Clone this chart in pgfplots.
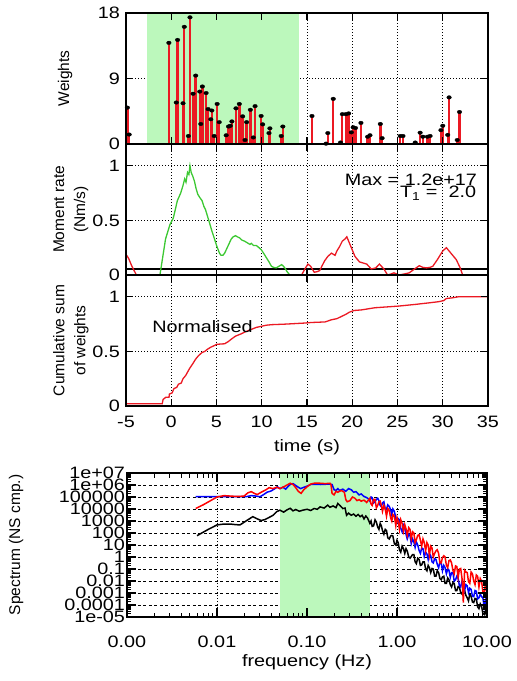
\documentclass[border=0pt]{standalone}
\usepackage{pgfplots}
\pgfplotsset{compat=1.18}
\usepackage{fontspec}
\setmainfont{Liberation Sans}[FakeStretch=1.2]
\newfontfamily\rotfam{Liberation Sans}
\definecolor{bandgreen}{RGB}{188,248,188}
\definecolor{lgreen}{RGB}{60,200,50}
\definecolor{myred}{RGB}{235,25,35}
\newcommand\ticfont{\fontsize{16.5bp}{19bp}\selectfont}
\newcommand\rotfont{\rotfam\fontsize{15.5bp}{21bp}\selectfont}

\pgfplotsset{
  basepanel/.style={scale only axis, anchor=south west, tick align=inside,
     axis line style={line width=1.6bp, black}, tick style={black, line width=1.2bp},
     major tick length=7bp, tick label style={font=\ticfont}, label style={font=\ticfont}},
  tpanel/.style={basepanel, width=362bp, height=131bp, xmin=-5, xmax=35,
     xtick={-5,0,5,10,15,20,25,30,35}},
  under/.style={grid=major, major grid style={black, line width=0.7bp, dash pattern=on 1.3bp off 1.7bp},
     xticklabels={}, yticklabels={}, major tick length=0bp, minor tick length=0bp, axis line style={draw=none}},
  over/.style={axis on top, yticklabel style={xshift=-2.5bp}},
}

\begin{document}
\begin{tikzpicture}
\path[use as bounding box] (0bp,0bp) rectangle (517bp,681bp);

% ---------------- Panel 1: weights
\begin{axis}[tpanel, under, at={(126bp,537bp)}, ymin=0, ymax=18, ytick={0,9,18}]
\addplot[fill=bandgreen, draw=none] coordinates {(-2.7,0) (-2.7,18) (14.1,18) (14.1,0)};
\addplot[ycomb, myred, line width=2.4bp, mark=*, mark size=1.8bp, mark options={black, fill=black, solid, line width=0.3bp, xscale=1.3}] coordinates {
(-4.85,5.0) (-4.65,1.3) (-0.26,13.9) (0.56,5.7) (0.70,14.3) (1.30,5.6) (1.44,16.1) (1.89,1.1) (2.07,17.4) (2.41,6.9) (2.70,9.4) (3.15,7.2) (3.26,2.75) (3.44,7.9) (3.85,7.0) (4.07,4.8) (4.37,3.4) (4.48,4.6) (4.74,1.1) (5.07,5.5) (5.30,3.0) (6.07,1.2) (6.33,2.4) (6.52,2.5) (6.70,3.1) (7.15,4.9) (7.52,5.5) (7.89,3.8) (8.15,0.55) (8.33,3.0) (8.74,4.7) (9.07,0.9) (9.26,5.2) (9.93,3.85) (10.1,2.7) (10.8,1.5) (10.9,2.15) (12.15,1.1) (12.33,2.4) (15.55,3.85) (17.1,0.05) (17.3,1.5) (17.9,6.2) (18.7,0.2) (18.9,4.1) (19.3,4.1) (19.6,4.2) (19.9,1.6) (20.1,2.3) (20.36,2.2) (20.96,2.9) (21.7,1.0) (21.96,1.2) (23.1,2.75) (23.3,0.8) (25.3,1.1) (25.6,1.1) (26.96,0.2) (27.5,1.55) (27.8,1.0) (28.3,1.0) (28.6,1.1) (29.8,1.9) (30.0,2.5) (30.55,1.25) (30.7,6.4) (31.6,0.55) (31.85,4.4)};
\end{axis}
\begin{axis}[tpanel, over, at={(126bp,537bp)}, ymin=0, ymax=18, ytick={0,9,18}, yticklabels={0,9,18}, xticklabels={},
  ylabel={Weights}, ylabel style={at={(axis description cs:-0.1685,0.5)}, anchor=center, font=\rotfont}]
\end{axis}

% ---------------- Panel 2: moment rate
\begin{axis}[tpanel, under, at={(126bp,406bp)}, ymin=0, ymax=1.2, ytick={0,0.5,1}]
\addplot[black, line width=1.6bp] coordinates {(-5,0.055) (35,0.055)};
\addplot[lgreen, line width=1.3bp] coordinates {
(-1.25,0) (-0.63,0.33) (-0.15,0.46) (0.22,0.52) (0.45,0.6) (0.67,0.68) (1.04,0.75) (1.3,0.82) (1.48,0.88) (1.63,0.85) (1.8,0.94) (1.95,0.92) (2.07,1.0) (2.2,0.94) (2.4,0.9) (2.56,0.86) (2.75,0.79) (2.93,0.74) (3.15,0.71) (3.41,0.68) (3.6,0.63) (3.78,0.60) (4.0,0.54) (4.22,0.48) (4.5,0.40) (4.78,0.33) (5.05,0.26) (5.33,0.20) (5.5,0.18) (5.7,0.18) (5.9,0.20) (6.07,0.23) (6.35,0.28) (6.63,0.33) (6.85,0.35) (7.1,0.36) (7.3,0.35) (7.55,0.34) (7.8,0.32) (8.1,0.31) (8.3,0.30) (8.5,0.29) (8.7,0.28) (8.85,0.29) (9.1,0.27) (9.4,0.27) (9.7,0.25) (9.96,0.23) (10.2,0.20) (10.5,0.16) (10.8,0.12) (11.07,0.08) (11.3,0.07) (11.6,0.065) (11.9,0.08) (12.2,0.095) (12.4,0.08) (12.55,0.065) (12.8,0.03) (13.1,0.0)};
\addplot[myred, line width=1.3bp] coordinates {(-5,0.19) (-4.7,0.15) (-4.4,0.09) (-4.1,0.04) (-3.85,0)};
\addplot[myred, line width=1.3bp] coordinates {
(14.4,0) (14.8,0.06) (15.1,0.10) (15.4,0.08) (15.8,0.025) (16.1,0.03) (16.4,0.04) (16.7,0.09) (16.95,0.13) (17.3,0.17) (17.7,0.20) (18.1,0.18) (18.3,0.22) (18.6,0.26) (18.9,0.31) (19.2,0.33) (19.4,0.35) (19.7,0.29) (20.0,0.23) (20.3,0.17) (20.6,0.14) (20.8,0.12) (21.2,0.11) (21.6,0.10) (22.1,0.055) (22.6,0.065) (23.0,0.10) (23.5,0.055) (23.9,0.0) (24.3,0.01) (24.6,0.02) (25.2,0.0) (25.8,0.01) (26.3,0.02) (26.8,0.05) (27.4,0.085) (27.8,0.07) (28.2,0.065) (28.6,0.07) (28.9,0.08) (29.4,0.14) (30.0,0.22) (30.4,0.25) (30.9,0.20) (31.5,0.14) (31.9,0.07) (32.2,0.0)};
\end{axis}
\begin{axis}[tpanel, over, at={(126bp,406bp)}, ymin=0, ymax=1.2, ytick={0,0.5,1}, yticklabels={0,0.5,1}, xticklabels={},
  ylabel={Moment rate\\(Nm/s)}, ylabel style={at={(axis description cs:-0.152,0.5)}, anchor=center, align=center, font=\rotfont}]
\node[anchor=east, inner sep=0pt, font=\ticfont] at (axis cs:33.8,0.87) {Max = 1.2e+17};
\node[anchor=east, inner sep=0pt, font=\ticfont] at (axis cs:33.7,0.75) {T\textsubscript{1} =~ 2.0};
\end{axis}

% ---------------- Panel 3: cumulative
\begin{axis}[tpanel, under, at={(126bp,275bp)}, ymin=0, ymax=1.2, ytick={0,0.5,1}]
\addplot[myred, line width=1.3bp] coordinates {
(-5,0.02) (-1.0,0.02) (-0.9,0.06) (-0.6,0.08) (-0.25,0.08) (-0.2,0.11) (0.1,0.12) (0.3,0.16) (0.6,0.17) (0.8,0.2) (1.1,0.21) (1.3,0.25) (1.6,0.28) (2.0,0.34) (2.4,0.39) (2.7,0.43) (3.0,0.46) (3.4,0.49) (3.7,0.5) (4.0,0.52) (4.4,0.54) (4.8,0.555) (5.0,0.565) (5.9,0.57) (6.3,0.59) (6.6,0.61) (7.1,0.64) (7.7,0.66) (8.2,0.68) (8.8,0.70) (9.4,0.72) (9.96,0.73) (10.5,0.74) (11.1,0.745) (12.6,0.75) (14.8,0.76) (15.5,0.765) (17.0,0.77) (17.7,0.79) (18.3,0.80) (18.8,0.82) (19.3,0.84) (19.7,0.86) (20.2,0.875) (21.0,0.88) (22.5,0.90) (25.1,0.915) (26.9,0.93) (28.5,0.945) (29.5,0.955) (30.1,0.965) (30.4,0.985) (31.0,0.99) (31.7,1.0) (35,1.0)};
\end{axis}
\begin{axis}[tpanel, over, at={(126bp,275bp)}, ymin=0, ymax=1.2, ytick={0,0.5,1}, yticklabels={0,0.5,1},
  xticklabels={-5,0,5,10,15,20,25,30,35}, xticklabel style={yshift=-6.5bp},
  xlabel={time (s)}, xlabel style={at={(axis description cs:0.5,-0.313)}, anchor=center},
  ylabel={Cumulative sum\\of weights}, ylabel style={at={(axis description cs:-0.152,0.5)}, anchor=center, align=center, font=\rotfont}]
\node[anchor=west, inner sep=0pt, font=\ticfont] at (axis cs:-2.1,0.727) {Normalised};
\end{axis}

% ---------------- Panel 4: spectrum
\begin{axis}[basepanel, under, at={(127bp,64bp)}, width=360bp, height=144bp,
  xmode=log, ymode=log, xmin=0.001, xmax=10, ymin=1e-5, ymax=1e7,
  xtick={0.001,0.01,0.1,1,10},
  ytick={1e-5,1e-4,1e-3,1e-2,1e-1,1,10,100,1000,1e4,1e5,1e6,1e7},
  x grid style={black, line width=0.7bp, dash pattern=on 1.2bp off 1.8bp},
  y grid style={black, line width=0.7bp, dash pattern=on 3bp off 2.5bp}]
\addplot[fill=bandgreen, draw=none] coordinates {(0.05,1e-5) (0.05,1e7) (0.5,1e7) (0.5,1e-5)};
\addplot[black, line width=1.5bp] coordinates {
(0.006,60) (0.008,200) (0.01,470) (0.012,560) (0.014,560) (0.016,500) (0.018,470) (0.021,1000) (0.025,2300) (0.028,1500) (0.031,1100) (0.034,1300) (0.038,2000) (0.042,3000) (0.046,6000) (0.05,8000) (0.055,5500) (0.06,8500) (0.065,11500) (0.07,7000) (0.075,9000) (0.082,6500) (0.09,8000) (0.1,9500) (0.11,7500) (0.12,11000) (0.13,9500) (0.14,15000) (0.155,12000) (0.17,21000) (0.18,14000) (0.195,18000) (0.21,13000) (0.22,29000) (0.235,18000) (0.25,11000) (0.265,12000) (0.275,3000) (0.29,4500) (0.31,3000) (0.33,3800) (0.35,2500) (0.37,3500) (0.39,2300) (0.41,3000) (0.43,1500) (0.45,2600) (0.47,1800) (0.49,900)
(0.50,630) (0.515,1000) (0.53,355) (0.55,400) (0.57,1260) (0.59,800) (0.61,316) (0.63,200) (0.65,630) (0.67,400) (0.69,158) (0.715,80) (0.74,200) (0.765,160) (0.79,40) (0.82,32) (0.85,56) (0.875,63) (0.90,56) (0.935,12.6) (0.97,10) (1.0,25) (1.03,16) (1.065,4) (1.10,2.5) (1.14,8) (1.18,5.0) (1.22,2) (1.26,5.0) (1.30,3.2) (1.35,1.0) (1.395,0.8) (1.44,1.1) (1.49,1.6) (1.54,1.6) (1.59,0.4) (1.64,0.28) (1.70,0.8) (1.76,0.63) (1.82,0.2) (1.88,0.22) (1.945,0.4) (2.01,0.4) (2.08,0.1) (2.15,0.071) (2.22,0.2) (2.29,0.13) (2.37,0.05) (2.45,0.11) (2.53,0.1) (2.62,0.025) (2.71,0.025) (2.80,0.071) (2.90,0.05) (3.00,0.016) (3.10,0.0126) (3.20,0.022) (3.31,0.025) (3.42,0.0063) (3.54,0.0063) (3.66,0.018) (3.78,0.0126) (3.91,0.005) (4.04,0.0032) (4.18,0.0071) (4.32,0.0063) (4.47,0.0016) (4.62,0.0016) (4.78,0.0035) (4.94,0.0032) (5.10,0.001) (5.28,8e-4) (5.46,0.0022) (5.64,0.0016) (5.83,6.3e-4) (6.03,4e-4) (6.23,2.2e-4) (6.44,8e-4) (6.66,5.6e-4) (6.89,1.8e-4) (7.12,1.6e-4) (7.36,3.5e-4) (7.61,3.2e-4) (7.87,7e-5) (8.14,5.0e-5) (8.42,1.26e-4) (8.70,7.9e-5) (9.00,2e-5) (9.30,1.6e-5) (9.62,3.2e-5) (9.94,1.1e-5)};
\addplot[blue, line width=1.5bp] coordinates {
(0.0058,1.05e5) (0.01,1.05e5) (0.016,1.05e5) (0.021,1.05e5) (0.024,1.3e5) (0.027,1.2e5) (0.03,1.05e5) (0.033,1.6e5) (0.036,2.5e5) (0.04,3.2e5) (0.044,5e5) (0.047,7e5) (0.05,5e5) (0.054,6.5e5) (0.058,4.5e5) (0.062,8e5) (0.066,1.2e6) (0.07,1.3e6) (0.075,9e5) (0.08,6.5e5) (0.085,5e5) (0.09,6e5) (0.1,8e5) (0.11,1.1e6) (0.12,1.15e6) (0.14,1.1e6) (0.16,1.15e6) (0.18,1.2e6) (0.19,1.1e6) (0.2,4e5) (0.21,3.5e5) (0.22,5e5) (0.23,3.5e5) (0.25,4.5e5) (0.27,3e5) (0.29,5e5) (0.31,4e5) (0.33,2.5e5) (0.35,2.8e5) (0.38,1.5e5) (0.4,1.8e5) (0.43,1.1e5) (0.46,9e4) (0.48,7e4)
(0.50,4.5e4) (0.515,1e5) (0.53,8.9e4) (0.55,3.2e4) (0.57,4.0e4) (0.59,6.3e4) (0.61,7.9e4) (0.63,5e4) (0.65,2.0e4) (0.67,1.6e4) (0.69,3.2e4) (0.715,4e4) (0.74,1.0e4) (0.765,1e4) (0.79,2.2e4) (0.82,1.6e4) (0.85,8.9e3) (0.875,3.2e3) (0.90,1.0e4) (0.935,6.3e3) (0.97,1.6e3) (1.0,800) (1.03,1.6e3) (1.065,1.26e3) (1.10,250) (1.14,126) (1.18,450) (1.22,250) (1.26,79) (1.30,32) (1.35,79) (1.395,63) (1.44,13) (1.49,32) (1.54,18) (1.59,6.3) (1.64,18) (1.70,10) (1.76,3.5) (1.82,2) (1.88,5.6) (1.945,5) (2.01,1.1) (2.08,2.5) (2.15,1.8) (2.22,0.63) (2.29,2.0) (2.37,1.26) (2.45,0.4) (2.53,0.32) (2.62,0.71) (2.71,0.63) (2.80,0.25) (2.90,0.126) (3.00,0.4) (3.10,0.32) (3.20,0.071) (3.31,0.2) (3.42,0.13) (3.54,0.04) (3.66,0.1) (3.78,0.079) (3.91,0.02) (4.04,0.05) (4.18,0.05) (4.32,0.01) (4.47,0.0126) (4.62,0.025) (4.78,0.016) (4.94,0.004) (5.10,0.0032) (5.28,0.01) (5.46,0.005) (5.64,0.0016) (5.83,0.005) (6.03,0.004) (6.23,0.0011) (6.44,0.0025) (6.66,0.002) (6.89,5.6e-4) (7.12,5.0e-4) (7.36,0.0016) (7.61,0.0014) (7.87,3.2e-4) (8.14,4.0e-4) (8.42,8e-4) (8.70,5.0e-4) (9.00,4e-4) (9.30,7.1e-5) (9.62,2.5e-4) (9.94,1.0e-4)};
\addplot[red, line width=1.5bp] coordinates {
(0.0058,1.1e4) (0.007,2.2e4) (0.0085,5e4) (0.01,1e5) (0.012,1.3e5) (0.014,1.2e5) (0.017,1.1e5) (0.02,1.2e5) (0.022,2.2e5) (0.024,2.8e5) (0.026,2e5) (0.028,1.6e5) (0.031,2.5e5) (0.035,4e5) (0.038,6e5) (0.042,5e5) (0.046,6.5e5) (0.05,5e5) (0.055,7e5) (0.06,1e6) (0.065,1.4e6) (0.07,1.1e6) (0.075,6e5) (0.08,3e5) (0.086,2e5) (0.092,4e5) (0.1,7e5) (0.11,1.2e6) (0.12,1.4e6) (0.14,1.4e6) (0.16,1.3e6) (0.18,1.4e6) (0.185,1e6) (0.19,2e5) (0.2,1.5e5) (0.21,3e5) (0.22,2.5e5) (0.24,3.5e5) (0.26,2.5e5) (0.27,6e4) (0.28,4e4) (0.3,5e4) (0.32,1e5) (0.34,8e4) (0.36,5e4) (0.38,6e4) (0.4,4.5e4) (0.43,5.5e4) (0.46,3.5e4)
(0.50,7.9e4) (0.515,2.5e4) (0.53,2.0e4) (0.55,6.3e4) (0.57,6.3e4) (0.59,1.26e4) (0.61,2.0e4) (0.63,4e4) (0.65,4.5e4) (0.67,2e4) (0.69,6.3e3) (0.715,2e4) (0.74,1.0e4) (0.765,2.5e3) (0.79,1.1e4) (0.82,7.9e3) (0.85,1.8e3) (0.875,1e3) (0.90,3.5e3) (0.935,2.5e3) (0.97,400) (1.0,2e3) (1.03,1000) (1.065,200) (1.10,1300) (1.14,630) (1.18,140) (1.22,500) (1.26,220) (1.30,63) (1.35,280) (1.395,200) (1.44,32) (1.49,126) (1.54,100) (1.59,16) (1.64,28) (1.70,63) (1.76,71) (1.82,25) (1.88,7.9) (1.945,32) (2.01,16) (2.08,3.2) (2.15,16) (2.22,10) (2.29,1.4) (2.37,7.9) (2.45,5.6) (2.53,1) (2.62,2.0) (2.71,3.2) (2.80,4.0) (2.90,2) (3.00,0.32) (3.10,0.32) (3.20,0.89) (3.31,1.26) (3.42,1.0) (3.54,0.2) (3.66,0.13) (3.78,0.5) (3.91,0.56) (4.04,0.32) (4.18,0.079) (4.32,0.04) (4.47,0.18) (4.62,0.16) (4.78,0.02) (4.94,0.1) (5.10,0.11) (5.28,0.016) (5.46,1.6e-4) (5.64,0.079) (5.83,0.056) (6.03,0.05) (6.23,0.0089) (6.44,0.0063) (6.66,0.056) (6.89,0.04) (7.12,0.01) (7.36,0.005) (7.61,0.032) (7.87,0.025) (8.14,0.0032) (8.42,0.016) (8.70,0.01) (9.00,0.00126) (9.30,0.001) (9.62,0.005) (9.94,0.0013)};
\end{axis}
\begin{axis}[basepanel, over, at={(127bp,64bp)}, width=360bp, height=144bp,
  xmode=log, ymode=log, xmin=0.001, xmax=10, ymin=1e-5, ymax=1e7,
  major tick length=9bp, minor tick length=4.5bp, minor tick style={black, line width=1bp},
  xtick={0.001,0.01,0.1,1,10}, xticklabels={0.00,0.01,0.10,1.00,10.00}, xticklabel style={yshift=-15.5bp},
  ytick={1e-5,1e-4,1e-3,1e-2,1e-1,1,10,100,1000,1e4,1e5,1e6,1e7},
  yticklabels={1e-05,0.0001,0.001,0.01,0.1,1,10,100,1000,10000,100000,1e+06,1e+07},
  yticklabel style={xshift=4bp},
  minor xtick={0.002,0.003,0.004,0.005,0.006,0.007,0.008,0.009,0.02,0.03,0.04,0.05,0.06,0.07,0.08,0.09,0.2,0.3,0.4,0.5,0.6,0.7,0.8,0.9,2,3,4,5,6,7,8,9},
  minor ytick={2e-5,3e-5,4e-5,5e-5,6e-5,7e-5,8e-5,9e-5,2e-4,3e-4,4e-4,5e-4,6e-4,7e-4,8e-4,9e-4,2e-3,3e-3,4e-3,5e-3,6e-3,7e-3,8e-3,9e-3,2e-2,3e-2,4e-2,5e-2,6e-2,7e-2,8e-2,9e-2,0.2,0.3,0.4,0.5,0.6,0.7,0.8,0.9,2,3,4,5,6,7,8,9,20,30,40,50,60,70,80,90,200,300,400,500,600,700,800,900,2e3,3e3,4e3,5e3,6e3,7e3,8e3,9e3,2e4,3e4,4e4,5e4,6e4,7e4,8e4,9e4,2e5,3e5,4e5,5e5,6e5,7e5,8e5,9e5,2e6,3e6,4e6,5e6,6e6,7e6,8e6,9e6},
  xlabel={frequency (Hz)}, xlabel style={at={(axis description cs:0.5,-0.3125)}, anchor=center},
  ylabel={Spectrum (NS cmp.)}, ylabel style={at={(axis description cs:-0.308,0.5)}, anchor=center, font=\rotfont}]
\end{axis}
\end{tikzpicture}
\end{document}
